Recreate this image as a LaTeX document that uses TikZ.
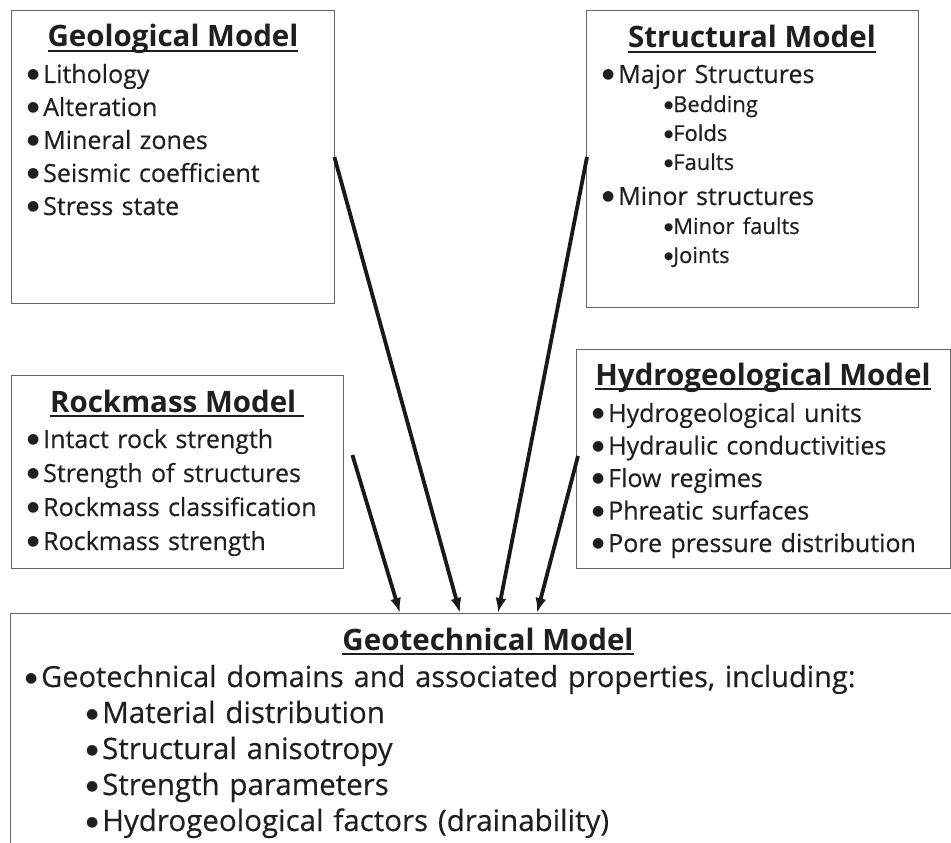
\documentclass[tikz,border=0pt]{standalone}
\usepackage{fontspec}
\setmainfont{Open Sans}
\newfontfamily\listfont{Open Sans}[FakeBold=0.4]
\newfontfamily\dotfont{DejaVu Sans}
\usetikzlibrary{arrows.meta, calc}

\newcommand{\modelhead}[1]{\setbox0=\hbox{#1}\leavevmode\rlap{\copy0}\rule[-5pt]{\wd0}{2.4pt}}
\newcommand{\bul}{\makebox[16pt][l]{\raisebox{4.5pt}{\dotfont\fontsize{14pt}{0pt}\selectfont ●}}}
\newcommand{\subbul}{\makebox[9pt][l]{\raisebox{3pt}{\dotfont\fontsize{10.5pt}{0pt}\selectfont ●}}}

\tikzset{
  modelbox/.style={draw=black!60, line width=1.4pt, anchor=north west, inner sep=0pt},
  headline/.style={anchor=base, inner sep=0pt, text=black!88,
                   font=\bfseries\fontsize{29.5pt}{30pt}\selectfont},
  itemlist/.style={anchor=base west, inner sep=0pt, align=left, text=black!88,
                   text width=330pt},
  feed/.style={-{Latex[length=15pt,width=11pt]}, line width=3.8pt, draw=black!90},
}

\begin{document}
\begin{tikzpicture}[x=1pt, y=-1pt]
\useasboundingbox (0,0) rectangle (951,843);
\clip (0,0) rectangle (951,843);

% model boxes
\node[modelbox, minimum width=323pt, minimum height=293pt] (geol) at (11,10) {};
\node[modelbox, minimum width=332pt, minimum height=297pt] (struc) at (586,10) {};
\node[modelbox, minimum width=332pt, minimum height=193pt] (rock) at (11,375) {};
\node[modelbox, minimum width=374pt, minimum height=219pt] (hydro) at (576,349) {};
\node[modelbox, minimum width=960pt, minimum height=260pt] (geot) at (10,613) {};

% titles
\node[headline] (geolhead) at (173,47) {\modelhead{Geological Model}};
\node[headline] (struchead) at (752,48) {\modelhead{Structural Model}};
\node[headline] (rockhead) at (177,412) {\modelhead{Rockmass Model\ }};
\node[headline] (hydrohead) at (763,385) {\modelhead{Hydrogeological Model}};
\node[headline] (geothead) at (488,650) {\modelhead{Geotechnical Model}};

% lists
\node[itemlist, font=\listfont\fontsize{25pt}{33pt}\selectfont] (geollist) at (27,83)
  {\bul Lithology\\ \bul Alteration\\ \bul Mineral zones\\ \bul Seismic coefficient\\ \bul Stress state};
\node[itemlist, font=\listfont\fontsize{25pt}{29pt}\selectfont] (struclist) at (602,83)
  {\bul Major Structures\\
   \hspace*{62pt}{\fontsize{22pt}{29pt}\selectfont\subbul Bedding}\\
   \hspace*{62pt}{\fontsize{22pt}{29pt}\selectfont\subbul Folds}\\
   \hspace*{62pt}{\fontsize{22pt}{29pt}\selectfont\subbul Faults}\\[6pt]
   \bul Minor structures\\
   \hspace*{62pt}{\fontsize{22pt}{29pt}\selectfont\subbul Minor faults}\\
   \hspace*{62pt}{\fontsize{22pt}{29pt}\selectfont\subbul Joints}};
\node[itemlist, font=\listfont\fontsize{25pt}{34pt}\selectfont] (rocklist) at (27,448)
  {\bul Intact rock strength\\ \bul Strength of structures\\ \bul Rockmass classification\\ \bul Rockmass strength};
\node[itemlist, font=\listfont\fontsize{25pt}{32.5pt}\selectfont] (hydrolist) at (592,422)
  {\bul Hydrogeological units\\ \bul Hydraulic conductivities\\ \bul Flow regimes\\ \bul Phreatic surfaces\\ \bul Pore pressure distribution};
\node[itemlist, text width=900pt, font=\listfont\fontsize{29.5pt}{36pt}\selectfont] (geotlist) at (25,687)
  {{\fontsize{29pt}{36pt}\selectfont\bul Geotechnical domains and associated properties, including:}\\
   \hspace*{61pt}\bul Material distribution\\
   \hspace*{61pt}\bul Structural anisotropy\\
   \hspace*{61pt}\bul Strength parameters\\
   \hspace*{61pt}\bul Hydrogeological factors (drainability)};

% connectors into the geotechnical model
\draw[feed] ($(rock.north east)+(8,80)$) -- ($(geot.north west)+(390,0)$);
\draw[feed] ($(geol.north east)+(-1,147)$) -- ($(geot.north west)+(450,0)$);
\draw[feed] ($(struc.north west)+(1,147)$) -- ($(geot.north west)+(488,0)$);
\draw[feed] ($(hydro.north west)+(2,107)$) -- ($(geot.north west)+(527,0)$);

\end{tikzpicture}
\end{document}
